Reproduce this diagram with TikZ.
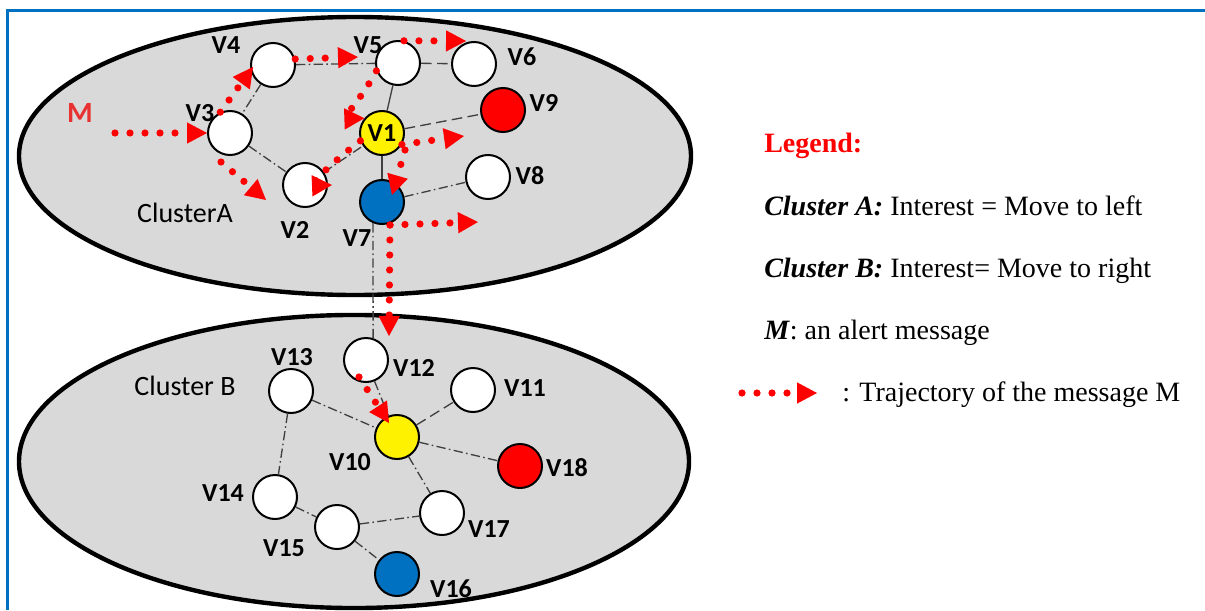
\documentclass[tikz,border=0pt]{standalone}
\usepackage{fontspec}
\setmainfont{Liberation Serif}
\newfontfamily\calibri{Carlito}
\usetikzlibrary{arrows.meta}

\definecolor{frameblue}{HTML}{0070C0}
\definecolor{clustergray}{HTML}{D9D9D9}
\definecolor{nodeblue}{HTML}{0070C0}
\definecolor{linkgray}{HTML}{404040}
\definecolor{msgred}{HTML}{FF0000}
\definecolor{mred}{RGB}{232,50,50}

\begin{document}
\begin{tikzpicture}[x=0.75pt,y=-0.75pt,
  vertex/.style={circle, draw=black, line width=1.5pt, minimum size=33pt, inner sep=0pt, fill=white,
                 font=\calibri\bfseries\fontsize{19.5}{20}\selectfont},
  vlabel/.style={font=\calibri\bfseries\fontsize{19.5}{20}\selectfont, inner sep=0pt},
  clabel/.style={font=\calibri\fontsize{21}{22}\selectfont, inner sep=0pt},
  link/.style={draw=linkgray, line width=1pt, dash pattern=on 7pt off 2.5pt on 1.2pt off 2.5pt},
  plainlink/.style={draw=linkgray, line width=1pt},
  longdash/.style={draw=linkgray, line width=1pt, dash pattern=on 8pt off 4pt},
  traj/.style={draw=msgred, line width=5.4pt, line cap=round, dash pattern=on 0pt off 11.25pt,
               -{Triangle[length=15pt,width=16pt,line width=0pt]}},
  legend/.style={font=\fontsize{21}{24}\selectfont, anchor=base west, inner sep=0pt},
]
% canvas and frame
\useasboundingbox (0,0) rectangle (1205,610);
\fill[white] (0,0) rectangle (1205,610);
\draw[frameblue, line width=2.25pt] (7,610) -- (7,11) -- (1205,11);

% the two clusters
\draw[fill=clustergray, line width=3.3pt] (355,156) ellipse [x radius=252pt, y radius=104.25pt];
\draw[fill=clustergray, line width=3.3pt] (354,461.5) ellipse [x radius=251.25pt, y radius=109.9pt];

% cluster A vertices
\node[vertex] (V4) at (273,65) {};
\node[vertex] (V5) at (398,63) {};
\node[vertex] (V6) at (474,64) {};
\node[vertex] (V3) at (230,133) {};
\node[vertex, fill=yellow] (V1) at (382,133) {V1};
\node[vertex, fill=red] (V9) at (503,110) {};
\node[vertex] (V2) at (305,185) {};
\node[vertex, fill=nodeblue] (V7) at (382,202) {};
\node[vertex] (V8) at (488,177) {};

% cluster B vertices
\node[vertex] (V12) at (366,360) {};
\node[vertex] (V13) at (291,391) {};
\node[vertex] (V11) at (473,390) {};
\node[vertex, fill=yellow] (V10) at (397,437) {};
\node[vertex, fill=red] (V18) at (520,466) {};
\node[vertex] (V14) at (275,497) {};
\node[vertex] (V15) at (337,527) {};
\node[vertex] (V17) at (442,513) {};
\node[vertex, fill=nodeblue] (V16) at (397,574) {};

% vertex labels
\node[vlabel] (lV4) at (226,45) {V4};
\node[vlabel] (lV5) at (368,45) {V5};
\node[vlabel] (lV6) at (522,57) {V6};
\node[vlabel] (lV3) at (200,113) {V3};
\node[vlabel] (lV9) at (544,103) {V9};
\node[vlabel] (lV8) at (530,176) {V8};
\node[vlabel] (lV2) at (295,230) {V2};
\node[vlabel] (lV7) at (357,238) {V7};
\node[vlabel] (lV13) at (292,357) {V13};
\node[vlabel] (lV12) at (414,368) {V12};
\node[vlabel] (lV11) at (525,388) {V11};
\node[vlabel] (lV10) at (350,462) {V10};
\node[vlabel] (lV18) at (567,468) {V18};
\node[vlabel] (lV14) at (223,493) {V14};
\node[vlabel] (lV17) at (489,529) {V17};
\node[vlabel] (lV15) at (284,548) {V15};
\node[vlabel] (lV16) at (451,589) {V16};

% cluster names and the message
\node[clabel] (nameA) at (185,213) {ClusterA};
\node[clabel] (nameB) at (185,386) {Cluster B};
\node[inner sep=0pt, text=mred, font=\calibri\bfseries\fontsize{22}{24}\selectfont] (msgM) at (80,113) {M};

% links of cluster A
\draw[link] (V4) -- (V5);
\draw[longdash] (V5) -- (V6);
\draw[link] (V4) -- (V3);
\draw[link] (V3) -- (V2);
\draw[link] (V2) -- (V1);
\draw[plainlink] (V5) -- (V1);
\draw[longdash] (V1) -- (V9);
\draw[plainlink] (V1) -- (V7);
\draw[link] (V7) -- (V8);
% link between the clusters
\draw[link] (V7.247) -- (V12.72);
% links of cluster B
\draw[link] (V12) -- (V10);
\draw[link] (V13) -- (V10);
\draw[longdash] (V10) -- (V11);
\draw[link] (V10) -- (V18);
\draw[link] (V10) -- (V17);
\draw[link] (V13) -- (V14);
\draw[link] (V14) -- (V15);
\draw[link] (V15) -- (V17);
\draw[link] (V15) -- (V16);

% trajectory of the message
\coordinate (m0) at (115,133);
\coordinate (t2) at (253,67);
\coordinate (t3) at (358,57);
\coordinate (t4) at (466,41);
\coordinate (t6) at (332,185);
\coordinate (s7) at (221,162);
\coordinate (t7) at (266,200);
\coordinate (t8) at (464,136);
\coordinate (s9) at (405,150);
\coordinate (t9) at (392,195);
\coordinate (s10) at (390,225);
\coordinate (t10) at (478,222);
\coordinate (t11) at (389,336);
\coordinate (s12) at (359,377);
\coordinate (t12) at (389,423);

\draw[traj] (m0) -- (V3.west);
\draw[traj] (V3.115) -- (t2);
\draw[traj] (V4.15) -- (t3);
\draw[traj] (V5.75) -- (t4);
\draw[traj] (V5.200) .. controls (362,98) and (342,119) .. (V1.140);
\draw[traj] (V1.200) .. controls (335,160) and (308,186) .. (t6);
\draw[traj] (s7) -- (t7);
\draw[traj] (V1.330) -- (t8);
\draw[traj] (s9) -- (t9);
\draw[traj] (s10) -- (t10);
\draw[traj] (s10) -- (t11);
\draw[traj] (s12) -- (t12);

% legend
\node[legend, text=red, font=\fontsize{21}{24}\selectfont\bfseries] (legTitle) at (764,152) {Legend:};
\node[legend] (legA) at (764,215) {\textbf{\textit{Cluster A:}} Interest = Move to left};
\node[legend] (legB) at (764,277) {\textbf{\textit{Cluster B:}} Interest= Move to right};
\node[legend] (legM) at (764,339) {\textbf{\textit{M}}: an alert message};
\coordinate (lg0) at (742,393);
\coordinate (lg1) at (817,393);
\draw[traj] (lg0) -- (lg1);
\node[legend] (legT) at (842,401) {: Trajectory of the message M};
\end{tikzpicture}
\end{document}
